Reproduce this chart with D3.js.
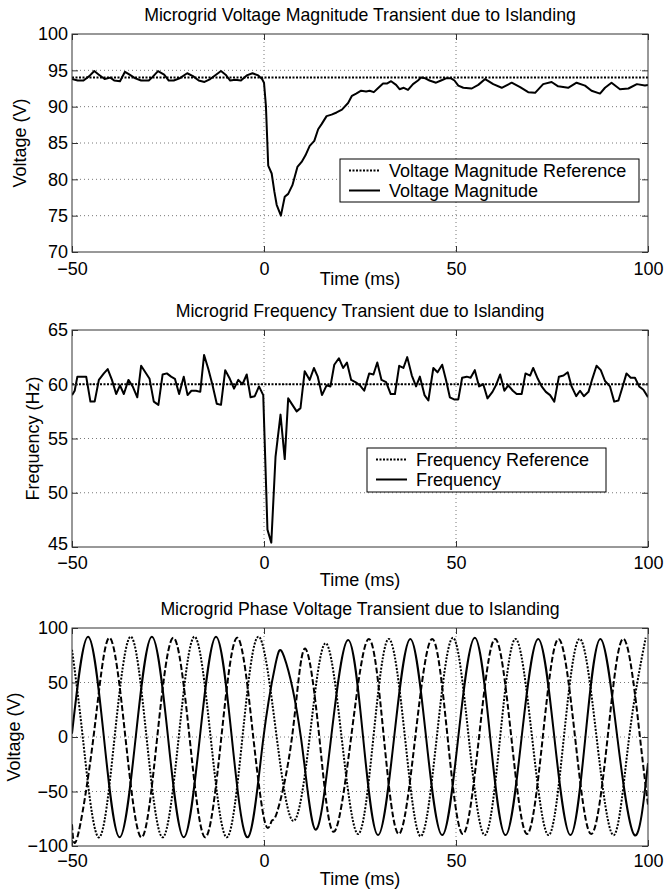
<!DOCTYPE html>
<html lang="en">
<head>
    <meta charset="UTF-8">
    <title>Microgrid Islanding Transients</title>
    <script src="https://cdn.jsdelivr.net/npm/d3@7"></script>
    <style>
        body { margin: 0; background: #fff; }
        svg text { font-family: "Liberation Sans", Arial, sans-serif; font-size: 18px; fill: #000; }
    </style>
</head>
<body>
    <svg id="chart" width="665" height="891"></svg>
    <script>
        // ---- data ----
        const timeTicks = [-50, 0, 50, 100];
        const vmagTicks = [70, 75, 80, 85, 90, 95, 100];
        const freqTicks = [45, 50, 55, 60, 65];
        const phaseTicks = [-100, -50, 0, 50, 100];

        const vmagRef = 94;
        const freqRef = 60;

        const vmagTime = [-50, -48.5, -47, -45.5, -44.2, -43, -41.5, -40, -39, -37.5, -36.2, -35, -33.5, -32, -30, -29,
            -27.6, -26, -24.8, -23.5, -22, -20, -18.5, -17, -15.5, -14, -12.5, -11.2, -10, -8.8, -7.5, -6, -4.5, -3, -1.5,
            -0.5, 0, 0.5, 1.1, 2.0, 2.7, 3.3, 4.4, 5.4, 6.3, 7.4, 8.7, 9.8, 10.8, 11.9, 13.1, 14.1, 15.0, 16.3, 17.6, 18.9,
            20.3, 21.9, 22.9, 24.0, 25.3, 26.6, 27.5, 28.6, 29.8, 31.0, 32.1, 33.1, 34.4, 35.3, 36.4, 37.5, 38.8, 40.1,
            40.9, 42.0, 43.1, 44.8, 46.1, 47.4, 48.7, 49.6, 50.6, 51.9, 54.1, 55.8, 57.6, 59.7, 61.9, 64.5, 66.7, 68.8,
            70.6, 72.7, 74.9, 76.6, 79.2, 81.4, 83.6, 85.3, 87.5, 88.8, 90.5, 92.7, 94.9, 97.1, 99.2, 100];
        const vmagValue = [93.8, 93.6, 93.6, 94.2, 94.9, 94.4, 93.8, 94.0, 93.6, 93.5, 94.8, 94.4, 93.9, 93.6, 93.6, 94.1,
            94.9, 94.4, 93.6, 93.6, 93.9, 94.6, 94.2, 93.6, 93.4, 93.8, 94.4, 94.9, 94.4, 93.6, 93.7, 93.6, 94.3, 94.6, 94.3,
            93.8, 93.3, 90.1, 81.9, 80.8, 78.3, 76.5, 75.0, 77.6, 78.0, 79.2, 81.7, 82.4, 83.3, 84.6, 85.3, 86.9, 87.6, 88.7,
            88.9, 89.2, 89.6, 90.5, 91.5, 91.8, 92.2, 92.1, 92.2, 92.0, 92.6, 93.2, 93.2, 93.5, 93.0, 92.4, 92.6, 92.3, 93.1,
            93.6, 94.0, 93.9, 93.6, 93.3, 93.6, 93.9, 93.9, 93.6, 92.9, 92.6, 92.5, 93.0, 93.8, 93.1, 92.6, 93.3, 92.7, 92.0,
            91.9, 93.1, 93.4, 92.8, 92.6, 93.3, 92.9, 92.2, 91.8, 92.6, 93.3, 92.4, 92.5, 93.1, 92.9, 93.0];

        const freqTime = [-50, -49.3, -48.6, -47.6, -46.3, -45.2, -44.1, -43.0, -41.7, -40.7, -39.6, -38.5, -37.5, -36.5,
            -35.3, -34.2, -33.0, -32.0, -30.9, -29.8, -28.7, -27.5, -26.4, -25.3, -24.2, -23.2, -22.1, -20.9, -19.9, -18.9,
            -17.7, -16.6, -15.6, -14.5, -13.4, -12.3, -11.2, -10.1, -8.9, -7.8, -6.7, -5.6, -4.5, -3.5, -2.4, -1.3, -0.2,
            0.9, 1.9, 3.0, 4.3, 5.4, 6.3, 7.4, 8.5, 9.5, 10.6, 11.9, 13.0, 14.0, 15.1, 16.3, 17.3, 18.3, 19.5, 20.6, 21.6,
            22.7, 23.8, 25.0, 26.1, 27.4, 28.5, 29.5, 30.6, 31.8, 33.0, 34.1, 35.2, 36.3, 37.3, 38.5, 39.6, 40.6, 41.8,
            42.8, 44.1, 45.2, 46.4, 47.4, 48.4, 49.5, 50.6, 51.6, 52.8, 53.8, 54.9, 56.0, 57.1, 58.2, 59.5, 60.4, 61.5,
            62.6, 63.6, 64.8, 65.8, 67.1, 68.1, 69.3, 70.1, 71.3, 72.3, 73.4, 74.5, 75.6, 76.8, 78.0, 79.1, 80.1, 81.3,
            82.3, 83.3, 84.5, 85.5, 86.6, 87.7, 88.8, 90.1, 91.2, 92.3, 93.4, 94.4, 95.5, 96.6, 97.7, 98.8, 100];
        const freqValue = [59.0, 59.4, 60.7, 60.7, 60.7, 58.4, 58.4, 60.4, 61.0, 61.4, 60.4, 59.1, 59.9, 59.1,
            60.4, 59.8, 58.8, 61.7, 61.1, 60.5, 58.4, 58.1, 60.9, 61.0, 60.7, 60.5, 59.1, 60.7, 59.0, 59.4,
            59.4, 59.3, 62.7, 61.4, 59.9, 58.2, 58.1, 61.3, 60.5, 59.6, 60.4, 60.0, 60.9, 58.8, 58.9, 59.8, 59.0,
            46.6, 45.4, 53.3, 57.2, 53.1, 58.7, 58.1, 57.5, 57.8, 61.2, 60.4, 61.5, 60.7, 59.0, 59.9, 59.8, 61.8, 62.4,
            61.5, 62.0, 60.4, 60.2, 59.9, 59.4, 61.0, 60.9, 62.0, 60.4, 60.2, 59.1, 59.1, 61.7, 61.5, 62.5, 60.8, 59.8,
            60.7, 59.0, 58.5, 61.5, 61.1, 61.8, 60.4, 58.8, 58.6, 58.6, 60.6, 60.7, 60.6, 61.3, 59.8, 60.0, 58.7, 59.3,
            59.9, 60.9, 59.4, 59.9, 59.4, 59.1, 59.1, 61.0, 60.8, 61.5, 60.5, 59.8, 59.3, 59.0, 58.4, 60.7, 60.8, 61.1,
            59.8, 58.9, 59.4, 58.9, 59.3, 60.5, 61.7, 61.3, 60.3, 59.8, 58.4, 58.5, 59.8, 61.0, 60.6, 60.6, 59.8, 59.5,
            58.8];

        // phase voltages: peaks, troughs and zero crossings
        const phaseATime = [-50, -45.8, -41.7, -37.6, -33.4, -29.2, -25.0, -20.9, -16.7, -12.5, -8.4, -4.2, -0.2, 3.0,
            5.2, 9.6, 13.4, 17.5, 21.9, 25.8, 29.7, 33.9, 38.1, 42.2, 46.4, 50.6, 54.9, 58.9, 62.9, 67.1, 71.4, 75.6,
            79.8, 83.7, 87.6, 92.0, 96.5, 100];
        const phaseAValue = [3, 92, 0, -92, 0, 92, 0, -92, 0, 92, 0, -92, -2, 67,
            74, 0, -85, 0, 89, 0, -90, 0, 90, 0, -90, 0, 91, 0, -90, 0, 90, 0,
            -90, 0, 90, 0, -90, -24];
        const phaseBTime = [-50, -48.6, -44.4, -40.3, -36.1, -31.9, -27.8, -23.6, -19.4, -15.3, -11.1, -6.9, -2.8, 0.3,
            2.0, 3.4, 7.3, 10.6, 14.4, 18.1, 22.7, 27.3, 31.2, 35.1, 39.4, 43.8, 47.8, 51.8, 56.0, 60.2, 64.4, 68.5,
            72.6, 76.7, 81.0, 85.2, 89.5, 93.7, 97.9, 100];
        const phaseBValue = [-80, -92, 0, 91, 0, -92, 0, 91, 0, -92, 0, 91, 0, -79,
            -77, -69, 0, 81, 0, -87, 0, 90, 0, -89, 0, 90, 0, -89, 0, 90, 0, -89,
            0, 90, 0, -89, 0, 90, 0, -62];
        const phaseCTime = [-50, -47.2, -43.1, -38.9, -34.7, -30.6, -26.4, -22.2, -18.1, -13.9, -9.7, -5.6, -1.4, 3.3,
            7.7, 11.9, 16.0, 20.2, 24.5, 28.5, 32.5, 36.7, 40.8, 45.0, 49.2, 53.3, 57.5, 61.5, 65.5, 69.8, 74.1, 78.1,
            82.2, 86.6, 91.1, 95.1, 99.4];
        const phaseCValue = [80, 0, -92, 0, 92, 0, -92, 0, 92, 0, -92, 0, 92, 0,
            -77, 0, 86, 0, -89, 0, 90, 0, -91, 0, 91, 0, -90, 0, 90, 0, -90, 0,
            90, 0, -90, 0, 91];

        // ---- layout ----
        const left = 72, right = 648;
        const svg = d3.select('#chart');
        const x = d3.scaleLinear().domain([-50, 100]).range([left, right]);

        function zip(ts, vs) {
            return ts.map((t, i) => [t, vs[i]]);
        }

        function drawPanel(cfg) {
            const y = d3.scaleLinear().domain(cfg.domain).range([cfg.bottom, cfg.top]);
            const g = svg.append('g');

            // grid
            g.selectAll('.gx').data(timeTicks.slice(1, -1)).enter().append('line')
                .attr('x1', d => x(d)).attr('x2', d => x(d))
                .attr('y1', cfg.top).attr('y2', cfg.bottom)
                .attr('stroke', '#555').attr('stroke-width', 0.8).attr('stroke-dasharray', '1,3');
            g.selectAll('.gy').data(cfg.ticks.slice(1, -1)).enter().append('line')
                .attr('x1', left).attr('x2', right)
                .attr('y1', d => y(d)).attr('y2', d => y(d))
                .attr('stroke', '#555').attr('stroke-width', 0.8).attr('stroke-dasharray', '1,3');

            // series, clipped to the plot box
            const clipId = 'clip' + cfg.top;
            svg.append('clipPath').attr('id', clipId).append('rect')
                .attr('x', left).attr('y', cfg.top - 1)
                .attr('width', right - left).attr('height', cfg.bottom - cfg.top + 2);
            const sg = g.append('g').attr('clip-path', `url(#${clipId})`);
            cfg.series.forEach(s => {
                const line = d3.line().x(d => x(d[0])).y(d => y(d[1])).curve(s.curve || d3.curveLinear);
                sg.append('path').datum(s.data)
                    .attr('d', line)
                    .attr('fill', 'none')
                    .attr('stroke', '#000')
                    .attr('stroke-width', 2)
                    .attr('stroke-linejoin', 'round')
                    .attr('stroke-dasharray', s.dash || null);
            });

            // axes with inward ticks
            g.append('g').attr('transform', `translate(0,${cfg.bottom})`)
                .call(d3.axisBottom(x).tickValues(timeTicks).tickSizeInner(-6).tickSizeOuter(0).tickPadding(cfg.xPad));
            const yAxis = g.append('g').attr('transform', `translate(${left},0)`)
                .call(d3.axisLeft(y).tickValues(cfg.ticks).tickSizeInner(-6).tickSizeOuter(0).tickPadding(4));
            g.append('g').attr('transform', `translate(0,${cfg.top})`)
                .call(d3.axisTop(x).tickValues(timeTicks).tickSizeInner(-6).tickSizeOuter(0).tickFormat(''));
            g.append('g').attr('transform', `translate(${right},0)`)
                .call(d3.axisRight(y).tickValues(cfg.ticks).tickSizeInner(-6).tickSizeOuter(0).tickFormat(''));
            g.selectAll('.domain').remove();
            g.selectAll('.tick line').attr('stroke', '#333');
            g.selectAll('.tick text').attr('font-size', 18).attr('font-family', null);
            // lowest y label sits right above the first x label; lift it a touch
            if (cfg.lowLabelLift) {
                yAxis.selectAll('.tick text').filter(d => d === cfg.domain[0]).attr('dy', cfg.lowLabelLift);
            }

            g.append('rect')
                .attr('x', left).attr('y', cfg.top)
                .attr('width', right - left).attr('height', cfg.bottom - cfg.top)
                .attr('fill', 'none').attr('stroke', '#333').attr('stroke-width', 1);

            // labels
            g.append('text').attr('x', (left + right) / 2).attr('y', cfg.top - 13)
                .attr('text-anchor', 'middle').style('font-size', '17.7px').text(cfg.title);
            g.append('text').attr('x', (left + right) / 2).attr('y', cfg.bottom + cfg.timeOffset)
                .attr('text-anchor', 'middle').text('Time (ms)');
            g.append('text')
                .attr('transform', `translate(${cfg.yLabelX},${(cfg.top + cfg.bottom) / 2}) rotate(-90)`)
                .attr('text-anchor', 'middle').attr('dy', '0.35em').text(cfg.yLabel);

            // legend
            if (cfg.legend) {
                const L = cfg.legend;
                const lg = g.append('g');
                lg.append('rect').attr('x', L.x).attr('y', L.y).attr('width', L.w).attr('height', L.h)
                    .attr('fill', '#fff').attr('stroke', '#000').attr('stroke-width', 1);
                L.items.forEach((item, i) => {
                    const yy = L.y + 11.5 + i * 20;
                    lg.append('line').attr('x1', L.x + 9).attr('x2', L.x + 40)
                        .attr('y1', yy).attr('y2', yy)
                        .attr('stroke', '#000').attr('stroke-width', 2)
                        .attr('stroke-dasharray', item.dash || null);
                    lg.append('text').attr('x', L.x + 49).attr('y', yy).attr('dy', '0.35em')
                        .text(item.label);
                });
            }
        }

        drawPanel({
            title: 'Microgrid Voltage Magnitude Transient due to Islanding',
            yLabel: 'Voltage (V)', yLabelX: 20,
            top: 34, bottom: 252, domain: [70, 100], ticks: vmagTicks,
            xPad: 10.5, timeOffset: 33,
            series: [
                { data: [[-50, vmagRef], [100, vmagRef]], dash: '2,1.5' },
                { data: zip(vmagTime, vmagValue) }
            ],
            legend: {
                x: 340, y: 159, w: 299, h: 43,
                items: [
                    { label: 'Voltage Magnitude Reference', dash: '2,1.5' },
                    { label: 'Voltage Magnitude' }
                ]
            }
        });

        drawPanel({
            title: 'Microgrid Frequency Transient due to Islanding',
            yLabel: 'Frequency (Hz)', yLabelX: 32.5,
            top: 330, bottom: 547, domain: [45, 65], ticks: freqTicks,
            xPad: 9, timeOffset: 38.5, lowLabelLift: '0.15em',
            series: [
                { data: [[-50, freqRef], [100, freqRef]], dash: '2,1.5' },
                { data: zip(freqTime, freqValue) }
            ],
            legend: {
                x: 367, y: 448, w: 239, h: 44,
                items: [
                    { label: 'Frequency Reference', dash: '2,1.5' },
                    { label: 'Frequency' }
                ]
            }
        });

        drawPanel({
            title: 'Microgrid Phase Voltage Transient due to Islanding',
            yLabel: 'Voltage (V)', yLabelX: 13.5,
            top: 628, bottom: 846, domain: [-100, 100], ticks: phaseTicks,
            xPad: 8.5, timeOffset: 39,
            series: [
                { data: zip(phaseCTime, phaseCValue), dash: '2,1.5', curve: d3.curveNatural },
                { data: zip(phaseBTime, phaseBValue), dash: '6,2.5', curve: d3.curveNatural },
                { data: zip(phaseATime, phaseAValue), curve: d3.curveNatural }
            ]
        });
    </script>
</body>
</html>
